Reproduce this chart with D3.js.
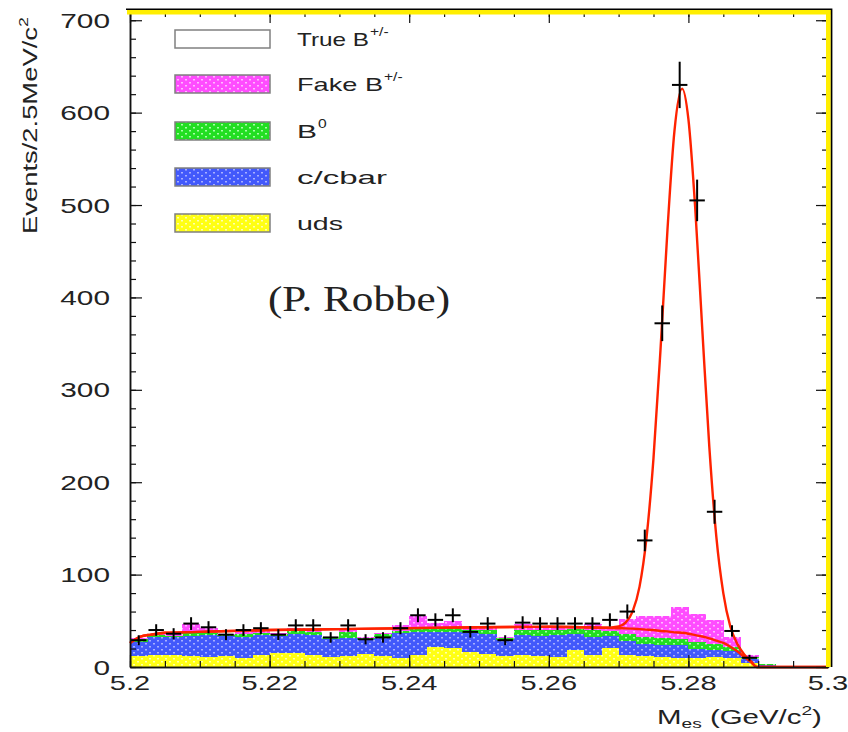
<!DOCTYPE html>
<html><head><meta charset="utf-8">
<script src="https://cdn.jsdelivr.net/npm/d3@7"></script>
<style>body{margin:0;background:#fff} svg{display:block}</style>
</head><body><svg id="c" width="848" height="732"></svg>
<script>
// ---------- DATA ----------
const binLo = [5.2000,5.2025,5.2050,5.2075,5.2100,5.2125,5.2150,5.2175,5.2200,5.2225,
               5.2250,5.2275,5.2300,5.2325,5.2350,5.2375,5.2400,5.2425,5.2450,5.2475,
               5.2500,5.2525,5.2550,5.2575,5.2600,5.2625,5.2650,5.2675,5.2700,5.2725,
               5.2750,5.2775,5.2800,5.2825,5.2850,5.2875,5.2900,5.2925,5.2950,5.2975];
const binWidth = 0.0025;
const dataCounts = [29,40,36,47,43,35,40,42,35,45,45,32,45,30,32,42,56,51,56,38,
                    47,29,48,47,47,47,47,51,60,137,372,630,505,168,39,10,0,0,0,0];
const dataErr = [5.4,6.3,6.0,6.9,6.6,5.9,6.3,6.5,5.9,6.7,6.7,5.7,6.7,5.5,5.7,6.5,7.5,7.1,7.5,6.2,
                 6.9,5.4,6.9,6.9,6.9,6.9,6.9,7.1,7.7,11.7,19.3,25.1,22.5,13.0,6.2,3.2,0,0,0,0];
const uds   = [12,13,13,12,11,12,10,13,15,15,13,11,12,14,12,10,13,22,21,16,
               14,12,13,12,11,18,13,21,13,12,11,10,10,11,10,4,1,0,0,0];
const ccbar = [15,20,20,22,24,22,23,22,19,21,22,19,19,16,21,27,25,16,17,21,
               22,17,22,22,24,18,20,13,15,13,13,14,10,7,7,5,1,0,0,0];
const b0    = [3,2,1,4,2,1,3,2,2,3,3,2,7,1,3,2,3,4,5,3,
               4,2,5,6,5,5,7,5,8,7,7,6,7,7,5,2,1,0,0,0];
const fakeB = [1,1,2,8,5,1,2,2,1,3,2,1,2,1,1,6,14,6,7,2,
               4,1,7,3,4,3,6,2,16,23,24,35,30,26,11,2,0,0,0,0];
const fitX     = [5.200,5.2015,5.203,5.205,5.21,5.22,5.23,5.24,5.25,5.26,5.265,5.268,5.270,5.271,5.272,5.273,5.274,
                  5.275,5.276,5.277,5.278,5.2791,5.280,5.281,5.282,5.283,5.284,5.285,5.286,5.287,5.288,5.289,5.2898,5.295,5.300];
const fitTotal = [26,33,35,37,38,40,41,42,43,43.5,43,42.5,44,48,60,87,140,
                  226,343,473,580,626,593,494,364,238,141,80,44,25,13.6,6,0,0,0];
const fitBkg   = [26,33,35,37,38,40,41,42,43,43.5,43,42.5,42,41.8,41.5,41,40.5,
                  40,39,38.5,37.5,37,36,34.5,33,31,28.5,26,22,17,11,5,0,0,0];
const yTickValues = [0,100,200,300,400,500,600,700];
const xTickValues = [5.2,5.22,5.24,5.26,5.28,5.3];
const xTickLabels = ["5.2","5.22","5.24","5.26","5.28","5.3"];
const legendKeys   = ["trueB","fakeB","b0","ccbar","uds"];
const legendLabels = ["True B","Fake B","B","c/cbar","uds"];
const legendSups   = ["+/-","+/-","0","",""];

// ---------- SETUP ----------
const svg = d3.select('#c');
const x = d3.scaleLinear().domain([5.2,5.3]).range([130,828]);
const y = d3.scaleLinear().domain([0,710]).range([667,11]);

const fills = {uds:['#ffff14','#ffffb0'], ccbar:['#4259fb','#a8b0ff'], b0:['#22de22','#a8ffa8'], fakeB:['#ff4cff','#ffbcff']};
const defs = svg.append('defs');
Object.entries(fills).forEach(([k,[base,light]])=>{
  const p = defs.append('pattern').attr('id','p_'+k).attr('patternUnits','userSpaceOnUse')
    .attr('width',8).attr('height',6);
  p.append('rect').attr('width',8).attr('height',6).attr('fill',base);
  p.append('rect').attr('x',1).attr('y',1).attr('width',2).attr('height',1.5).attr('fill',light);
  p.append('rect').attr('x',5).attr('y',4).attr('width',2).attr('height',1.5).attr('fill',light);
});

function stretch(sel, f){
  sel.each(function(){ const w=this.getComputedTextLength();
    this.setAttribute('textLength', w*f); this.setAttribute('lengthAdjust','spacingAndGlyphs'); });
}
function fitGroup(inner, text, target){
  const w = text.node().getBBox().width;
  inner.attr('transform', `scale(${target/w},1)`);
}

// ---------- STACKED HISTOGRAMS ----------
const rows = binLo.map((b,i)=>({lo:b, uds:uds[i], ccbar:ccbar[i], b0:b0[i], fakeB:fakeB[i]}));
const stack = d3.stack().keys(['uds','ccbar','b0','fakeB'])(rows);
const gHist = svg.append('g').attr('shape-rendering','crispEdges');
stack.forEach(layer=>{
  gHist.append('g').attr('fill',`url(#p_${layer.key})`)
    .selectAll('rect').data(layer.filter(d=>d[1]>d[0])).join('rect')
    .attr('x', d=>x(d.data.lo))
    .attr('width', d=>x(d.data.lo+binWidth)-x(d.data.lo)+0.5)
    .attr('y', d=>y(d[1]))
    .attr('height', d=>y(d[0])-y(d[1]));
});

// ---------- FIT CURVES ----------
const line = (arr)=>d3.line().x((d,i)=>x(fitX[i])).y((d,i)=>y(arr[i])).curve(d3.curveMonotoneX)(arr);
svg.append('path').attr('d',line(fitBkg)).attr('fill','none').attr('stroke','#ff2200').attr('stroke-width',2.4);
svg.append('path').attr('d',line(fitTotal)).attr('fill','none').attr('stroke','#ff2200').attr('stroke-width',2.4);

// ---------- DATA POINTS ----------
const pts = binLo.map((b,i)=>({lo:b, v:dataCounts[i], e:dataErr[i]})).filter(d=>d.v>0);
const gPts = svg.append('g').attr('stroke','#000').attr('stroke-width',2);
gPts.selectAll('line.h').data(pts).join('line').attr('class','h')
  .attr('x1',d=>x(d.lo)+1).attr('x2',d=>x(d.lo+binWidth)-1).attr('y1',d=>y(d.v)).attr('y2',d=>y(d.v));
gPts.selectAll('line.v').data(pts).join('line').attr('class','v')
  .attr('x1',d=>x(d.lo+binWidth/2)).attr('x2',d=>x(d.lo+binWidth/2))
  .attr('y1',d=>y(d.v-d.e)).attr('y2',d=>y(d.v+d.e));

// ---------- AXES / TICKS ----------
const yMinor = d3.range(0,701,20), xMinor = d3.range(0,21).map(i=>5.2+i*0.005);
function ax(g, axis, vals, size){ g.call(axis.tickValues(vals).tickSize(-size).tickSizeOuter(0).tickFormat(''))
  .attr('color','#111'); g.selectAll('line').attr('stroke-width',1.2); }
ax(svg.append('g').attr('transform','translate(130,0)'), d3.axisLeft(y), yTickValues, 12);
ax(svg.append('g').attr('transform','translate(130,0)'), d3.axisLeft(y), yMinor, 6);
ax(svg.append('g').attr('transform','translate(828,0)'), d3.axisRight(y), yTickValues, 12);
ax(svg.append('g').attr('transform','translate(828,0)'), d3.axisRight(y), yMinor, 6);
ax(svg.append('g').attr('transform','translate(0,667)'), d3.axisBottom(x), xTickValues, 12);
ax(svg.append('g').attr('transform','translate(0,667)'), d3.axisBottom(x), xMinor, 6);
ax(svg.append('g').attr('transform','translate(0,11)'), d3.axisTop(x), xTickValues, 12);
ax(svg.append('g').attr('transform','translate(0,11)'), d3.axisTop(x), xMinor, 6);
svg.selectAll('.domain').attr('stroke-width',1.5);

// yellow frame
svg.append('rect').attr('x',127).attr('y',10).attr('width',704).attr('height',4.5).attr('fill','#ffee00');
svg.append('rect').attr('x',826).attr('y',10).attr('width',4.8).attr('height',657).attr('fill','#ffee00');
svg.append('path').attr('d','M126,9.3H831.6V667').attr('fill','none').attr('stroke','#000').attr('stroke-width',1.6);

// tick labels
const font = "'Liberation Sans', Arial, sans-serif";
const yl = svg.append('g').attr('font-family',font).attr('font-size',21).attr('fill','#222');
yl.selectAll('text').data(yTickValues).join('text')
  .attr('x',110).attr('y',d=>y(d)+7.5).attr('text-anchor','end').text(d=>d);
stretch(yl.selectAll('text'),1.42);
const xl = svg.append('g').attr('font-family',font).attr('font-size',21).attr('fill','#222');
xl.selectAll('text').data(xTickValues).join('text')
  .attr('x',d=>x(d)).attr('y',690).attr('text-anchor','middle').text((d,i)=>xTickLabels[i]);
stretch(xl.selectAll('text'),1.38);

// axis titles
{
  const g = svg.append('g').attr('transform','translate(37,234) rotate(-90)');
  const inner = g.append('g');
  const t = inner.append('text').attr('font-family',font).attr('font-size',20).attr('fill','#222');
  t.append('tspan').text('Events/2.5MeV/c');
  t.append('tspan').attr('font-size',13).attr('dy',-9).text('2');
  fitGroup(inner, t, 217);
}
{
  const g = svg.append('g').attr('transform','translate(657,724)');
  const inner = g.append('g');
  const t = inner.append('text').attr('font-family',font).attr('font-size',20).attr('fill','#222');
  t.append('tspan').text('M');
  t.append('tspan').attr('font-size',13).attr('dy',4).text('es');
  t.append('tspan').attr('dy',-4).text(' (GeV/c');
  t.append('tspan').attr('font-size',13).attr('dy',-9).text('2');
  t.append('tspan').attr('dy',9).text(')');
  fitGroup(inner, t, 165);
}

// ---------- LEGEND ----------
const legTop = [30,75,122,168,214], legW = [72,86,20,90,46];
const gl = svg.append('g');
legendKeys.forEach((k,i)=>{
  gl.append('rect').attr('x',175).attr('y',legTop[i]).attr('width',95).attr('height',18)
    .attr('fill', k==='trueB' ? '#fff' : `url(#p_${k})`).attr('stroke','#808080').attr('stroke-width',1.5);
  const t = gl.append('text').attr('x',297).attr('y',legTop[i]+16).attr('font-family',font)
    .attr('font-size',19).attr('fill','#222').attr('textLength',legW[i]).attr('lengthAdjust','spacingAndGlyphs')
    .text(legendLabels[i]);
  if (legendSups[i]) {
    const s = gl.append('text').attr('x',297+legW[i]+1).attr('y',legTop[i]+6).attr('font-family',font)
      .attr('font-size',12).attr('fill','#222').text(legendSups[i]);
    stretch(s,1.3);
  }
});

// annotation
svg.append('text').attr('x',268).attr('y',311).attr('font-family',"'Liberation Serif', 'Times New Roman', serif")
  .attr('font-size',35).attr('fill','#222').attr('textLength',182).attr('lengthAdjust','spacingAndGlyphs')
  .text('(P. Robbe)');
</script></body></html>
